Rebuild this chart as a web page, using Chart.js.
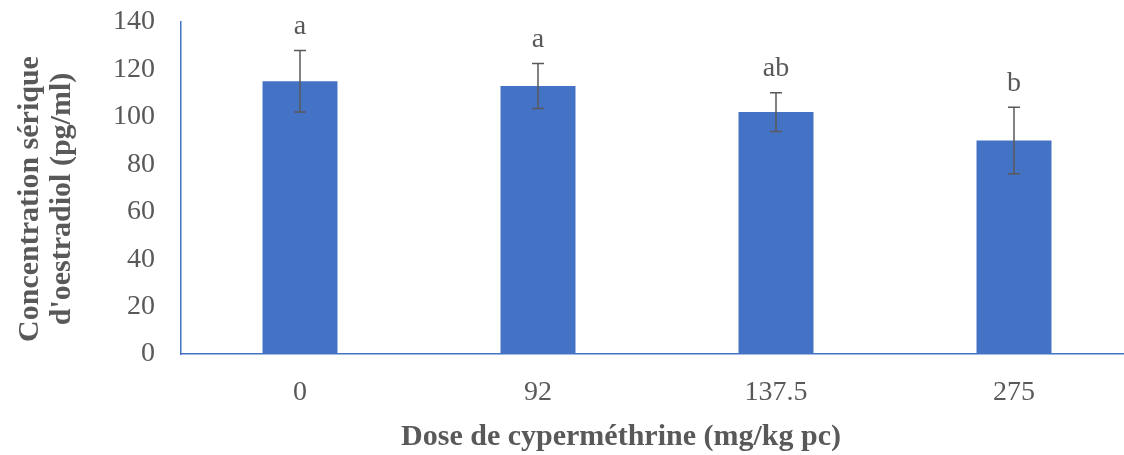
<!DOCTYPE html>
<html>
<head>
<meta charset="utf-8">
<script src="https://cdn.jsdelivr.net/npm/chart.js@4"></script>
<style>
  html, body { margin: 0; padding: 0; background: #fff; overflow: hidden; }
</style>
</head>
<body>
<canvas id="chartCanvas" width="1140" height="455"></canvas>
<script>
// Data
const doses = ['0', '92', '137.5', '275'];
const means = [115, 113, 102, 90];
const errors = [13, 9.5, 8.2, 14];
const letters = ['a', 'a', 'ab', 'b'];
const yTicks = [0, 20, 40, 60, 80, 100, 120, 140];

const xTitle = 'Dose de cyperméthrine (mg/kg pc)';
const yTitle = ['Concentration sérique', "d'oestradiol (pg/ml)"];

const textGrey = '#595959';
const barBlue = '#4472C4';

// Error bars + significance letters drawn on top of the bars
const errorBarPlugin = {
    id: 'errorBars',
    afterDatasetsDraw(chart) {
        const ctx = chart.ctx;
        const yScale = chart.scales.y;
        const meta = chart.getDatasetMeta(0);
        ctx.save();
        meta.data.forEach(function(bar, i) {
            const x = bar.x;
            const top = yScale.getPixelForValue(means[i] + errors[i]);
            const bottom = yScale.getPixelForValue(means[i] - errors[i]);
            ctx.strokeStyle = textGrey;
            ctx.lineWidth = 1.5;
            ctx.beginPath();
            ctx.moveTo(x, top); ctx.lineTo(x, bottom);
            ctx.moveTo(x - 6, top); ctx.lineTo(x + 6, top);
            ctx.moveTo(x - 6, bottom); ctx.lineTo(x + 6, bottom);
            ctx.stroke();
            // letter above the error bar
            ctx.fillStyle = textGrey;
            ctx.font = '28px "Liberation Serif"';
            ctx.textAlign = 'center';
            ctx.textBaseline = 'middle';
            ctx.fillText(letters[i], x, top - 24);
        });
        ctx.restore();
    }
};

// Axis titles (not centred on the plot area in the original)
const axisTitlePlugin = {
    id: 'axisTitles',
    afterDraw(chart) {
        const ctx = chart.ctx;
        ctx.save();
        ctx.fillStyle = textGrey;
        ctx.font = 'bold 30px "Liberation Serif"';
        ctx.textAlign = 'center';
        ctx.textBaseline = 'middle';
        ctx.fillText(xTitle, 621, 437);
        ctx.translate(30, 199);
        ctx.rotate(-Math.PI / 2);
        ctx.fillText(yTitle[0], 0, 0);
        ctx.fillText(yTitle[1], 0, 32);
        ctx.restore();
    }
};

var ctx = document.getElementById('chartCanvas').getContext('2d');
var chart = new Chart(ctx, {
    type: 'bar',
    data: {
        labels: doses,
        datasets: [{
            data: means,
            backgroundColor: barBlue,
            borderWidth: 0,
            barPercentage: 0.315,
            categoryPercentage: 1
        }]
    },
    options: {
        responsive: false,
        animation: false,
        layout: { padding: { top: 22, right: 7, left: 0, bottom: 0 } },
        plugins: {
            legend: { display: false },
            tooltip: { enabled: false }
        },
        scales: {
            x: {
                grid: { display: false, drawTicks: false },
                border: { display: true, color: barBlue, width: 1.5 },
                ticks: {
                    color: textGrey,
                    font: { family: 'Liberation Serif', size: 28 },
                    padding: 22
                },
                afterFit: function(scale) {
                    scale.height = 101;
                    scale.paddingLeft = 0;
                    scale.paddingRight = 0;
                }
            },
            y: {
                min: 0,
                max: 140,
                grid: { display: false, drawTicks: false },
                border: { display: true, color: barBlue, width: 1.5 },
                afterBuildTicks: function(scale) {
                    scale.ticks = yTicks.map(function(v) { return { value: v }; });
                },
                ticks: {
                    color: textGrey,
                    font: { family: 'Liberation Serif', size: 28 },
                    padding: 26
                },
                afterFit: function(scale) {
                    scale.width = 181;
                    scale.paddingTop = 0;
                    scale.paddingBottom = 0;
                }
            }
        }
    },
    plugins: [errorBarPlugin, axisTitlePlugin]
});
</script>
</body>
</html>
